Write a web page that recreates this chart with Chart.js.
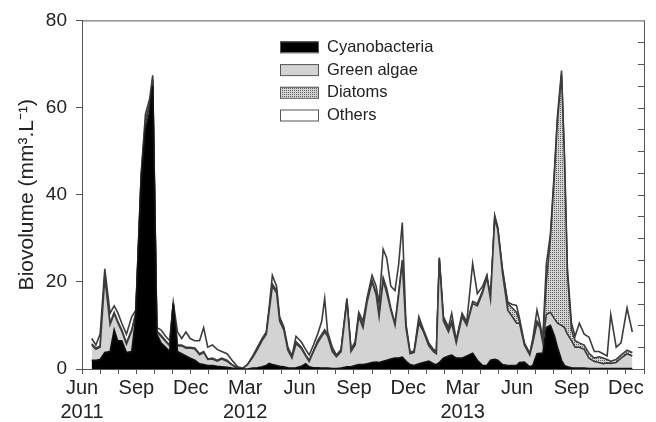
<!DOCTYPE html>
<html>
<head>
<meta charset="utf-8">
<script src="https://cdn.jsdelivr.net/npm/chart.js@4.4.1/dist/chart.umd.min.js"></script>
<style>
  body { margin: 0; background: #fff; }
  canvas { display: block; }
</style>
</head>
<body>
<canvas id="bioChart" width="656" height="422"></canvas>
<script>
// sampling dates
var sampleDates = [
  '2011-06-17','2011-06-24','2011-07-01','2011-07-09','2011-07-18','2011-07-25','2011-07-31','2011-08-07','2011-08-15','2011-08-24',
  '2011-08-31','2011-09-09','2011-09-16','2011-09-23','2011-09-28','2011-10-05','2011-10-12','2011-10-20','2011-10-27','2011-11-02',
  '2011-11-09','2011-11-16','2011-11-23','2011-11-30','2011-12-08','2011-12-16','2011-12-23','2011-12-30','2012-01-07','2012-01-15',
  '2012-01-23','2012-02-01','2012-02-09','2012-02-18','2012-02-26',
  '2012-03-05','2012-03-14','2012-03-22','2012-03-30','2012-04-06','2012-04-11','2012-04-16','2012-04-23','2012-04-28','2012-05-05',
  '2012-05-12','2012-05-19','2012-05-26','2012-06-04','2012-06-11','2012-06-17','2012-06-24','2012-07-01','2012-07-08','2012-07-13',
  '2012-07-18','2012-07-26','2012-08-02','2012-08-10','2012-08-20','2012-08-27','2012-09-03','2012-09-09','2012-09-16','2012-09-23',
  '2012-10-01','2012-10-08','2012-10-13','2012-10-20','2012-10-26','2012-11-02','2012-11-09','2012-11-15','2012-11-21','2012-11-27',
  '2012-12-04','2012-12-11','2012-12-19','2012-12-27',
  '2013-01-05','2013-01-13','2013-01-18','2013-01-23','2013-01-30','2013-02-07','2013-02-12','2013-02-19','2013-02-28','2013-03-08',
  '2013-03-18','2013-03-26','2013-04-04','2013-04-11','2013-04-17','2013-04-24','2013-04-29','2013-05-07','2013-05-16','2013-05-24',
  '2013-05-31','2013-06-05','2013-06-13','2013-06-22','2013-06-27','2013-07-04','2013-07-09','2013-07-14','2013-07-20','2013-07-27',
  '2013-08-03','2013-08-08','2013-08-15','2013-08-20','2013-08-25','2013-09-01','2013-09-07','2013-09-14','2013-09-22','2013-09-30',
  '2013-10-09','2013-10-17','2013-10-24','2013-10-31','2013-11-06','2013-11-15','2013-11-23','2013-12-03','2013-12-12'
];

// biovolume per group, mm3.L-1
var cyanobacteria = [
  2,2,2.2,3.8,4,9,6.5,6.5,3.8,4, 12,43,55,59,65,8,6,5,4,14.8, 4,3.5,3,2.5,2,1.2,1,0.8,0.8,0.6, 0.5,0.4,0.2,0.1,0,
  0,0.2,0.3,0.5,0.8,1.3,1,0.8,0.6,0.5, 0.3,0.2,0.3,0.6,1.2,0.5,0.3,0.3,0.2,0.2, 0.2,0.1,0.1,0.2,0.5,0.5,0.8,1,1,1.2,
  1.5,1.6,1.5,1.8,2,2.3,2.5,2.5,2.7,1.8, 1,0.8,1.2,1.5,
  1.8,1.2,1,1.5,2.5,3,3.2,2.5,2.5,3, 3.6,2,0.8,0.8,2,2.2,2,1,0.8,0.8, 0.8,1.5,1.6,0.5,0.8,3.5,3.6,3.6,9.5,10,
  7.5,5,2,0.8,0.5,0.3,0.2,0.2,0.2,0.1, 0.1,0.1,0.1,0.1,0.1,0.1,0.1,0.1,0.1
];
var greenAlgae = [
  3.5,2.5,2.8,17.2,6.2,3.7,4.2,2.2,1.9,4.7, 0.5,1,1.5,1.5,1,0.5,1.5,1.3,1.3,0.3, 1.3,1.8,1.8,2.3,2.6,2.1,2.8,1.4,1.5,1.2, 1.8,1.4,0.7,0.1,0.1,
  1,2.5,4.2,6,7.2,12.2,18,16.7,10.4,8.5, 4,2.3,5.5,4.1,1.8,1.2,3.7,5.7,7.3,8.3, 7.3,3.9,2.7,3.8,15,3.5,4.7,11,8.5,14.3,
  18.5,15.4,10.5,18.5,15.5,11.2,7.5,14.5,21.8,7.7, 2.5,3,9.3,7,
  3.5,2.8,2.5,23.5,8.5,5.5,7.3,3.5,9.5,7, 11.4,12.5,16.7,20.2,14,32.3,30,21,12.7,11.2, 9.7,9,3.9,2.7,5.2,7,5.9,2.4,3,3,
  4,5.5,8,8.7,7.5,6.2,4.8,4.8,4.3,2.4, 1.6,1.4,1.1,1.3,1.2,1.4,2.4,3.4,2.9
];
var diatoms = [
  0.3,0.3,0.3,0.5,0.3,0.3,0.3,0.3,0.3,0.3, 0.5,0.5,0.5,0.5,0.5,0.2,0.3,0.2,0.2,0.1, 0.2,0.2,0.2,0.2,0.2,0.2,0.2,0.1,0.2,0.2, 0.2,0.2,0.1,0.1,0,
  0,0.1,0.1,0.2,0.2,0.3,0.5,0.5,0.5,0.3, 0.2,0.1,0.5,0.3,0.3,0.3,0.2,0.5,0.5,0.5, 0.5,0.2,0.2,0.2,0.3,0.2,0.3,0.3,0.5,0.5,
  0.3,0.5,0.5,0.7,1,0.5,0.5,0.5,0.5,0.5, 0.1,0.2,0.5,0.2,
  0.2,0.2,0.3,0.3,0.5,0.5,0.5,0.3,0.3,0.3, 0.5,0.5,0.5,0.3,0.2,0.5,0.3,0.5,1.5,2, 2.5,0.5,0.3,0.2,0.5,0.5,0.5,0.5,7.5,17,
  33.5,46.5,57.5,38.5,14,2.5,1.5,1,1,1.1, 0.8,1.3,1.3,0.8,0.5,0.7,0.7,0.8,0.8
];
var others = [
  1.2,0.7,2.7,1.5,2.3,1.5,2,1.5,2,3, 0.5,0.5,1.5,1,0.9,0.8,1.2,1,1,0.1, 3,1.5,3.5,2,1.7,3,5.5,2.7,3,2.5, 1.5,1.5,1,0.2,0.1,
  0,0.2,0.4,0.3,0.3,0.7,2,1,0.5,0.4, 0.5,0.4,1.2,1.2,1.2,1.2,1.3,1.5,3,7.2, 0.5,0.8,0.2,0.3,0.4,0.3,0.5,0.7,1,0.5,
  1.2,1.5,2.5,6.5,7,5,7.5,6.5,8.6,0.5, 0.2,0.2,1,0.3,
  0.5,0.3,0.4,0.3,0.5,0.6,1.8,0.3,0.5,0.5, 8.7,2.3,1,0.2,0.1,0.2,0.2,0.5,0.3,0.8, 1.6,0.6,0.2,0.2,0.5,2.5,0.5,0.5,4,1,
  1,1,1,1,1,1.5,1,4.5,2.5,3.7, 1.5,1.2,1,0.8,10.7,2.8,2.8,9.7,4.7
];

// x axis = months since 1 Jun 2011
var tickMonths = [0, 3, 6, 9, 12, 15, 18, 21, 24, 27, 30];
var tickLabels = [['Jun', '2011'], 'Sep', 'Dec', ['Mar', '2012'], 'Jun', 'Sep', 'Dec', ['Mar', '2013'], 'Jun', 'Sep', 'Dec'];

function monthPos(s) {
  var p = s.split('-').map(Number);
  var dim = new Date(p[0], p[1], 0).getDate();
  return (p[0] - 2011) * 12 + (p[1] - 6) + (p[2] - 1) / dim;
}

function series(vals) {
  return vals.map(function (v, i) { return {x: monthPos(sampleDates[i]), y: v}; });
}

function dotPattern() {
  var c = document.createElement('canvas');
  c.width = 2; c.height = 2;
  var g = c.getContext('2d');
  g.fillStyle = '#d4d4d4';
  g.fillRect(0, 0, 2, 2);
  g.fillStyle = '#606060';
  g.fillRect(0, 0, 1, 1);
  return g.createPattern(c, 'repeat');
}

var FONT = "'Liberation Sans', Arial, sans-serif";
var LINE = '#3c3c3c';

// legend drawn inside the plot, upper middle
var boxLegend = {
  id: 'boxLegend',
  afterDraw: function (chart) {
    var ctx = chart.ctx, a = chart.chartArea;
    ctx.save();
    ctx.font = '16.5px ' + FONT;
    ctx.textBaseline = 'middle';
    chart.data.datasets.forEach(function (ds, i) {
      var x = a.left + 198, y = a.top + 21 + i * 22.7;
      ctx.fillStyle = ds.backgroundColor;
      ctx.fillRect(x, y, 38, 11);
      ctx.strokeStyle = '#555';
      ctx.lineWidth = 1;
      ctx.strokeRect(x + 0.5, y + 0.5, 38, 11);
      ctx.fillStyle = '#222';
      ctx.fillText(ds.label, x + 47, y + 6);
    });
    ctx.restore();
  }
};

// box round the plot + inward minor ticks on the right
var frame = {
  id: 'frame',
  afterDraw: function (chart) {
    var ctx = chart.ctx, a = chart.chartArea, y = chart.scales.y;
    ctx.save();
    ctx.strokeStyle = '#555';
    ctx.lineWidth = 1;
    ctx.strokeRect(a.left + 0.5, a.top + 0.5, a.right - a.left, a.bottom - a.top);
    for (var v = 5; v < 80; v += 5) {
      var py = Math.round(y.getPixelForValue(v)) + 0.5;
      ctx.beginPath();
      ctx.moveTo(a.right, py);
      ctx.lineTo(a.right - 6, py);
      ctx.stroke();
    }
    ctx.restore();
  }
};

var ctx = document.getElementById('bioChart');
var bioChart = new Chart(ctx, {
  type: 'line',
  data: {
    datasets: [
      {label: 'Cyanobacteria', data: series(cyanobacteria), backgroundColor: '#000', borderColor: '#111', fill: 'origin'},
      {label: 'Green algae', data: series(greenAlgae), backgroundColor: '#d3d3d3', borderColor: LINE, fill: '-1'},
      {label: 'Diatoms', data: series(diatoms), backgroundColor: dotPattern(), borderColor: LINE, fill: '-1'},
      {label: 'Others', data: series(others), backgroundColor: '#fff', borderColor: LINE, fill: '-1'}
    ]
  },
  options: {
    responsive: false,
    animation: false,
    devicePixelRatio: 1,
    layout: {padding: {top: 19, right: 12, left: 0, bottom: 0}},
    elements: {
      line: {borderWidth: 1.6, tension: 0},
      point: {radius: 0, hoverRadius: 0}
    },
    plugins: {
      legend: {display: false},
      tooltip: {enabled: false}
    },
    scales: {
      x: {
        type: 'linear',
        min: 0,
        max: 31,
        border: {color: '#555', width: 1},
        grid: {drawOnChartArea: false, tickLength: 5, color: '#555'},
        ticks: {
          stepSize: 1,
          autoSkip: false,
          maxRotation: 0,
          padding: 2,
          color: '#222',
          font: {family: FONT, size: 20},
          callback: function (v) {
            var k = tickMonths.indexOf(v);
            return k < 0 ? '' : tickLabels[k];
          }
        },
        afterFit: function (s) { s.height = 53; }
      },
      y: {
        stacked: true,
        min: 0,
        max: 80,
        border: {color: '#555', width: 1},
        grid: {drawOnChartArea: false, tickLength: 6, color: '#555'},
        ticks: {stepSize: 20, padding: 9, color: '#222', font: {family: FONT, size: 19}},
        title: {
          display: true,
          text: 'Biovolume (mm³.L⁻¹)',
          color: '#222',
          font: {family: FONT, size: 21},
          padding: {top: 15, bottom: 0}
        },
        afterFit: function (s) { s.width = 82; }
      }
    }
  },
  plugins: [frame, boxLegend]
});
</script>
</body>
</html>
